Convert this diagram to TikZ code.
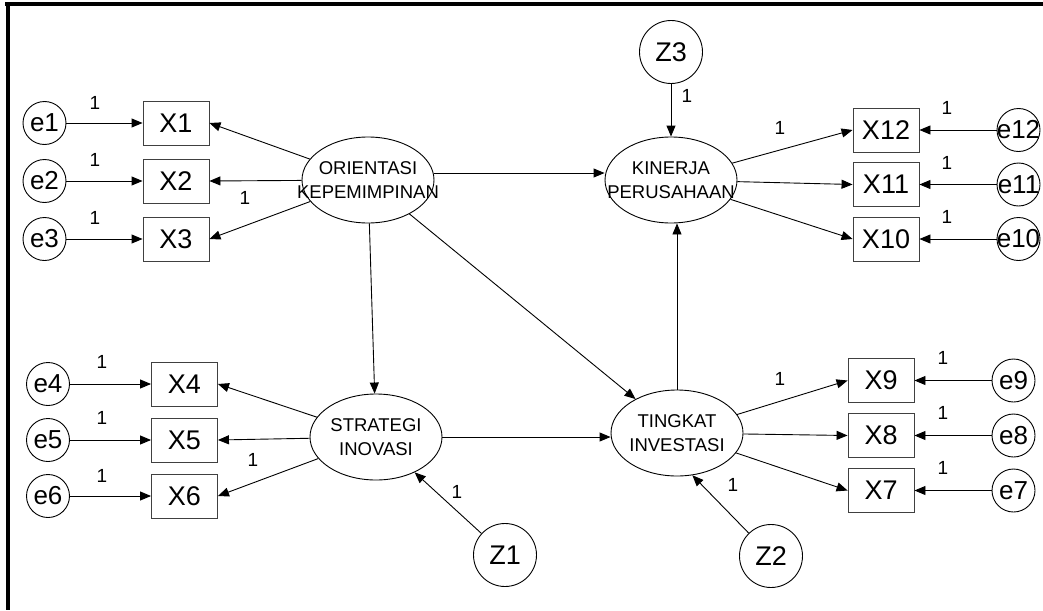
\documentclass[tikz,border=0pt]{standalone}
\usepackage{fontspec}
\setmainfont{Liberation Sans}
\usetikzlibrary{arrows.meta,shapes.geometric}

\begin{document}
\begin{tikzpicture}[x=1pt,y=-1pt,
  line width=0.9pt,
  arr/.style={-{Triangle[length=11pt,width=9pt]}},
  obs/.style={rectangle,draw=black!75,minimum width=66pt,minimum height=44pt,
    inner sep=0pt,font=\fontsize{27}{32}\selectfont},
  err/.style={circle,draw,minimum size=43pt,inner sep=0pt,
    label={[font=\fontsize{26}{30}\selectfont,inner sep=0pt]center:#1}},
  dist/.style={circle,draw,minimum size=63pt,inner sep=0pt,
    font=\fontsize{27}{32}\selectfont},
  lat/.style={ellipse,draw,minimum width=132pt,minimum height=86pt,inner sep=0pt,
    label={[font=\fontsize{18.5}{24}\selectfont,align=center,inner sep=0pt]center:#1}},
  wt/.style={font=\fontsize{19}{22}\selectfont,inner sep=0pt}
]
\useasboundingbox (0,0) rectangle (1043,610);

% frame bars on top and left
\fill (5,2) rectangle (1043,6);
\fill (6,2) rectangle (10,610);

% latent variables
\node[lat={ORIENTASI\\KEPEMIMPINAN}] (OK) at (368,180) {};
\node[lat={KINERJA\\PERUSAHAAN}] (KP) at (671,180) {};
\node[lat={STRATEGI\\INOVASI}] (SI) at (376,437) {};
\node[lat={TINGKAT\\INVESTASI}] (TI) at (677,433) {};

% disturbances
\node[dist] (Z3) at (671,52) {Z3};
\node[dist] (Z1) at (505,555) {Z1};
\node[dist] (Z2) at (771,556) {Z2};

% indicators, upper left
\node[obs] (X1) at (176,123) {X1};
\node[obs] (X2) at (176,181) {X2};
\node[obs] (X3) at (176,239) {X3};
\node[err=e1] (e1) at (44.5,123) {};
\node[err=e2] (e2) at (44.5,181) {};
\node[err=e3] (e3) at (44.5,239) {};

% indicators, lower left
\node[obs] (X4) at (184.5,384) {X4};
\node[obs] (X5) at (184.5,440) {X5};
\node[obs] (X6) at (184.5,496) {X6};
\node[err=e4] (e4) at (48,384) {};
\node[err=e5] (e5) at (48,440) {};
\node[err=e6] (e6) at (48,496) {};

% indicators, upper right
\node[obs] (X12) at (886,130) {X12};
\node[obs] (X11) at (886,184.5) {X11};
\node[obs] (X10) at (886,239) {X10};
\node[err=e12] (e12) at (1018.5,130) {};
\node[err=e11] (e11) at (1018.5,184.5) {};
\node[err=e10] (e10) at (1018.5,239) {};

% indicators, lower right
\node[obs] (X9) at (881,380.5) {X9};
\node[obs] (X8) at (881,435.5) {X8};
\node[obs] (X7) at (881,490.5) {X7};
\node[err=e9] (e9) at (1013.5,380.5) {};
\node[err=e8] (e8) at (1013.5,435.5) {};
\node[err=e7] (e7) at (1013.5,490.5) {};

% error terms to indicators
\foreach \i in {1,...,12} \draw[arr] (e\i) -- (X\i);

% loadings
\draw[arr] (OK) -- (X1.east);
\draw[arr] (OK) -- (X2.east);
\draw[arr] (OK) -- (X3.east);
\draw[arr] (SI) -- (X4.east);
\draw[arr] (SI) -- (X5.east);
\draw[arr] (SI) -- (X6.east);
\draw[arr] (KP) -- (X12.west);
\draw[arr] (KP) -- (X11.west);
\draw[arr] (KP) -- (X10.west);
\draw[arr] (TI) -- (X9.west);
\draw[arr] (TI) -- (X8.west);
\draw[arr] (TI) -- (X7.west);

% structural paths
\draw[arr] ([yshift=7pt]OK.east) -- ([yshift=7pt]KP.west);
\draw[arr] (OK) -- (SI);
\draw[arr] (OK) -- (TI);
\draw[arr] (SI.east) -- (SI.east -| TI.west);
\draw[arr] (TI.north) -- (TI.north |- KP.south);
\draw[arr] (Z3) -- (KP);
\draw[arr] (Z1) -- (SI);
\draw[arr] (Z2) -- (TI.-70);

% fixed weights
\node[wt] (w1) at (95,103) {1};
\node[wt] (w2) at (95,160) {1};
\node[wt] (w3) at (95,218) {1};
\node[wt] (w4) at (245,198) {1};
\node[wt] (w5) at (102,362) {1};
\node[wt] (w6) at (102,418) {1};
\node[wt] (w7) at (102,476) {1};
\node[wt] (w8) at (253,460) {1};
\node[wt] (w9) at (457,492) {1};
\node[wt] (w10) at (687,96) {1};
\node[wt] (w11) at (780,128) {1};
\node[wt] (w12) at (947,108) {1};
\node[wt] (w13) at (947,163) {1};
\node[wt] (w14) at (947,217) {1};
\node[wt] (w15) at (780,379) {1};
\node[wt] (w16) at (733,485) {1};
\node[wt] (w17) at (943,358) {1};
\node[wt] (w18) at (943,413) {1};
\node[wt] (w19) at (943,468) {1};
\end{tikzpicture}
\end{document}
